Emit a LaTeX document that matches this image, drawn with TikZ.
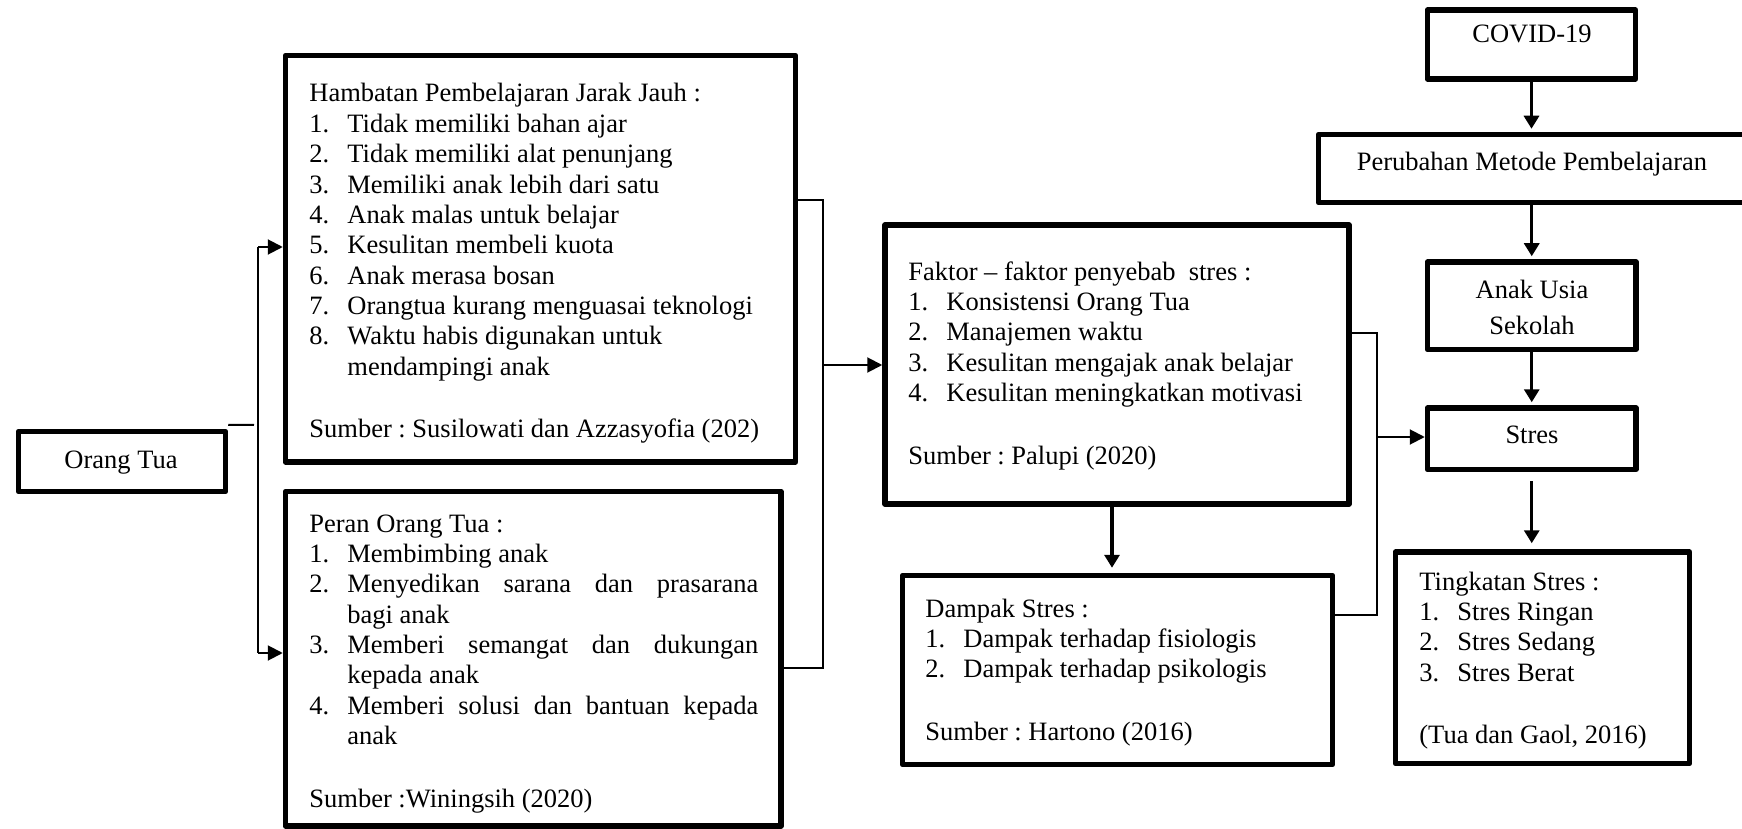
\documentclass[tikz,border=0pt]{standalone}
\usepackage{fontspec}
\setmainfont{Liberation Serif}
\usetikzlibrary{fit,arrows.meta,calc}
\frenchspacing
\newcommand{\itm}[2]{\par\noindent\hangindent=19pt\hangafter=1\makebox[19pt][l]{#1.}#2}
\newcommand{\srcskip}{\par\vspace{16.2pt}\noindent}
\tikzset{
  box/.style={draw, line width=2.75pt, inner sep=0pt, line join=round, rectangle},
  txt/.style={inner sep=0pt, anchor=base west, font=\fontsize{13.25pt}{15.17pt}\selectfont\frenchspacing},
  ctxt/.style={inner sep=0pt, anchor=base, font=\fontsize{13.25pt}{15.17pt}\selectfont},
  conn/.style={line width=1pt},
  arr/.style={line width=1pt, -{Triangle[length=7.5pt,width=7.5pt]}},
  varr/.style={line width=1.6pt, -{Triangle[length=6.5pt,width=7.5pt]}, shorten >=1.5pt}
}
\begin{document}
\begin{tikzpicture}[x=0.5pt,y=-0.5pt]
\useasboundingbox (0,0) rectangle (1742,829);
% boxes
\node[box, fit={(18.5,431.5) (225.5,491.5)}] (orang) {};
\node[box, fit={(285.5,55.5) (795.5,462)}] (ham) {};
\node[box, fit={(285.5,491.5) (781,826)}] (peran) {};
\node[box, fit={(885,225) (1349,504)}] (faktor) {};
\node[box, fit={(902.5,575.5) (1332.5,764.5)}] (dampak) {};
\node[box, fit={(1427.5,10) (1635.5,79)}] (covid) {};
\node[box, fit={(1318.5,134.5) (1746,202.5)}] (perubahan) {};
\node[box, fit={(1427.5,262) (1636,349.5)}] (anak) {};
\node[box, fit={(1427.5,408) (1636,469.5)}] (stres) {};
\node[box, fit={(1395.5,552) (1689.5,763.5)}] (tingkat) {};
% centred texts
\node[ctxt] (orangt) at (121,468) {Orang Tua};
\node[ctxt] (covidt) at (1532,43) {COVID-19};
\node[ctxt] (perubahant) at (1532,170) {Perubahan Metode Pembelajaran};
\node[ctxt] (anakt) at (1532,299) {\parbox[t]{90pt}{\centering\baselineskip=17.5pt Anak Usia\\Sekolah}};
\node[ctxt] (strest) at (1532,443) {Stres};
% list texts
\node[txt] (hamt) at (309,102) {\parbox[t]{250pt}{\raggedright\noindent Hambatan Pembelajaran Jarak Jauh :
\itm{1}{Tidak memiliki bahan ajar}
\itm{2}{Tidak memiliki alat penunjang}
\itm{3}{Memiliki anak lebih dari satu}
\itm{4}{Anak malas untuk belajar}
\itm{5}{Kesulitan membeli kuota}
\itm{6}{Anak merasa bosan}
\itm{7}{Orangtua kurang menguasai teknologi}
\itm{8}{Waktu habis digunakan untuk\newline mendampingi anak}
\srcskip Sumber : Susilowati dan Azzasyofia (202)}};
\node[txt] (perant) at (309,532) {\parbox[t]{224.5pt}{\tolerance=10000\hyphenpenalty=10000\noindent Peran Orang Tua :
\itm{1}{Membimbing anak}
\itm{2}{Menyedikan sarana dan prasarana\linebreak bagi anak}
\itm{3}{Memberi semangat dan dukungan\linebreak kepada anak}
\itm{4}{Memberi solusi dan bantuan kepada\linebreak anak}
\srcskip Sumber :Winingsih (2020)}};
\node[txt] (faktort) at (908,280) {\parbox[t]{250pt}{\raggedright\noindent Faktor – faktor penyebab\ \ stres :
\itm{1}{Konsistensi Orang Tua}
\itm{2}{Manajemen waktu}
\itm{3}{Kesulitan mengajak anak belajar}
\itm{4}{Kesulitan meningkatkan motivasi}
\srcskip Sumber : Palupi (2020)}};
\node[txt] (dampakt) at (925,617) {\parbox[t]{200pt}{\raggedright\noindent Dampak Stres :
\itm{1}{Dampak terhadap fisiologis}
\itm{2}{Dampak terhadap psikologis}
\srcskip Sumber : Hartono (2016)}};
\node[txt] (tingkatt) at (1419,590) {\parbox[t]{140pt}{\raggedright\noindent Tingkatan Stres :
\itm{1}{Stres Ringan}
\itm{2}{Stres Sedang}
\itm{3}{Stres Berat}
\srcskip (Tua dan Gaol, 2016)}};
% left connectors
\coordinate (s1) at (254,425);
\draw[conn] ([shift={(0,-4)}]orang.north east) -- (s1);
\coordinate (bl1) at (258,247);
\coordinate (bl2) at (258,653);
\draw[conn] (bl1) -- (bl2);
\draw[arr] (bl1) -- (bl1 -| ham.west);
\draw[arr] (bl2) -- (bl2 -| peran.west);
% middle bracket
\coordinate (m1) at (823,200);
\coordinate (m2) at (823,668);
\coordinate (m3) at (823,365);
\draw[conn] (m1 -| ham.east) -- (m1) -- (m2) -- (m2 -| peran.east);
\draw[arr] (m3) -- (m3 -| faktor.west);
% right bracket
\coordinate (r1) at (1377,333);
\coordinate (r2) at (1377,615);
\coordinate (r3) at (1377,437);
\draw[conn] (r1 -| faktor.east) -- (r1) -- (r2) -- (r2 -| dampak.east);
\draw[arr] (r3) -- (r3 -| stres.west);
% vertical arrows
\coordinate (fd) at (1112,0);
\draw[varr, shorten >=2.5pt] ([yshift=1pt]fd |- faktor.south) -- (fd |- dampak.north);
\draw[varr] (covid.south) -- (covid.south |- perubahan.north);
\draw[varr] ([yshift=1pt]anak.north |- perubahan.south) -- (anak.north);
\draw[varr] (anak.south) -- (stres.north);
\draw[varr, shorten <=4.5pt, shorten >=3pt] (stres.south) -- (stres.south |- tingkat.north);
\end{tikzpicture}
\end{document}
